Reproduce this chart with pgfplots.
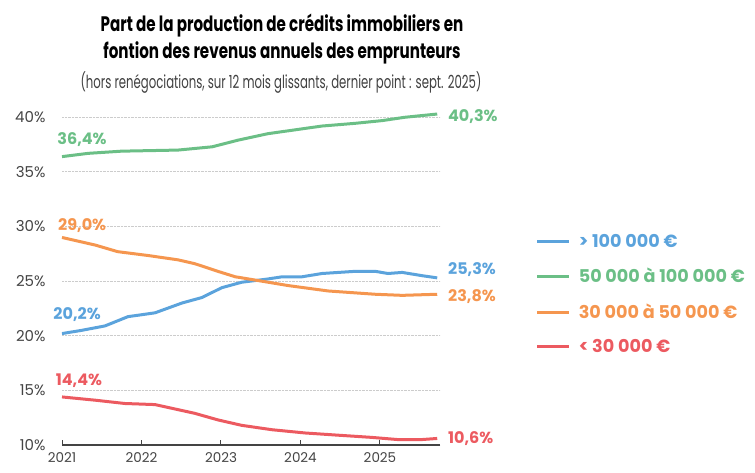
\documentclass[border=0pt]{standalone}
\usepackage{pgfplots}
\pgfplotsset{compat=1.18}
\usepackage{fontspec}
\setmainfont{Poppins}
\newfontfamily\titlefont{Poppins}[FakeStretch=0.72]
\newfontfamily\subfont{Poppins}[FakeStretch=0.65]
\definecolor{cblue}{HTML}{5BA3DC}
\definecolor{cgreen}{HTML}{6BBF86}
\definecolor{corange}{HTML}{F5964F}
\definecolor{cred}{HTML}{EC5A60}
\definecolor{tickgray}{HTML}{444444}

\pgfplotstableread{
x y
2021.00 20.2
2021.25 20.5
2021.54 20.9
2021.83 21.75
2022.17 22.1
2022.51 23.0
2022.76 23.5
2023.01 24.4
2023.26 24.9
2023.59 25.2
2023.77 25.4
2024.02 25.4
2024.27 25.7
2024.69 25.9
2024.94 25.9
2025.10 25.7
2025.28 25.8
2025.53 25.5
2025.72 25.3
}\blue

\pgfplotstableread{
x y
2021.00 36.4
2021.33 36.7
2021.75 36.9
2022.46 37.0
2022.89 37.3
2023.21 37.9
2023.59 38.5
2023.93 38.85
2024.27 39.2
2024.69 39.45
2025.03 39.7
2025.31 40.0
2025.72 40.3
}\green

\pgfplotstableread{
x y
2021.00 29.0
2021.42 28.3
2021.70 27.7
2022.08 27.35
2022.46 26.95
2022.67 26.6
2022.96 25.9
2023.18 25.4
2023.43 25.1
2023.84 24.6
2024.35 24.1
2024.94 23.8
2025.28 23.7
2025.72 23.8
}\orange

\pgfplotstableread{
x y
2021.00 14.4
2021.42 14.1
2021.79 13.8
2022.17 13.7
2022.67 12.9
2022.96 12.3
2023.26 11.8
2023.64 11.4
2024.06 11.1
2024.47 10.9
2024.89 10.7
2025.22 10.5
2025.53 10.5
2025.72 10.6
}\red

\begin{document}
\begin{tikzpicture}[x=1pt,y=1pt]
\path[use as bounding box] (0,0) rectangle (755,472);
\node[anchor=base, font=\titlefont\fontsize{21}{24}\selectfont\bfseries] at (282,440) {Part de la production de crédits immobiliers en};
\node[anchor=base, font=\titlefont\fontsize{21}{24}\selectfont\bfseries] at (282,413) {fontion des revenus annuels des emprunteurs};
\node[anchor=base, font=\subfont\fontsize{18}{20}\selectfont, text=black!75] at (281,383) {(hors renégociations, sur 12 mois glissants, dernier point : sept. 2025)};
\begin{axis}[
  at={(62pt,27pt)}, anchor=south west,
  scale only axis, width=378pt, height=327.7pt,
  xmin=2021, xmax=2025.755, ymin=10, ymax=40,
  clip=false,
  axis x line*=bottom, axis y line*=left,
  x axis line style={draw=tickgray, line width=1.3pt, -},
  y axis line style={draw=none},
  ytick={10,15,20,25,30,35,40},
  yticklabels={10\%,15\%,20\%,25\%,30\%,35\%,40\%},
  xtick={2021,2022,2023,2024,2025},
  xticklabels={2021,2022,2023,2024,2025},
  ytick style={draw=none},
  xtick style={draw=tickgray, line width=1pt},
  tick align=inside, major tick length=5pt,
  ymajorgrids, major grid style={densely dotted, draw=black!20, line width=1pt},
  yticklabel style={font=\fontsize{15}{17}\selectfont, text=tickgray, anchor=east, xshift=-13pt},
  xticklabel style={font=\fontsize{13.5}{15}\selectfont, text=tickgray, yshift=-4pt},
  legend style={draw=none, fill=none, at={(1.245,0.46)}, anchor=west,
    row sep=15.5pt, font=\fontsize{17.6}{19}\selectfont\bfseries, legend cell align=left},
  legend image code/.code={\draw[line width=3pt] (0pt,0pt) -- (32pt,0pt);},
]
\addplot[cblue, line width=3pt] table {\blue};
\addlegendentry{\hspace{6pt}\textcolor{cblue}{> 100 000 €}}
\addplot[cgreen, line width=3pt] table {\green};
\addlegendentry{\hspace{6pt}\textcolor{cgreen}{50 000 à 100 000 €}}
\addplot[corange, line width=3pt] table {\orange};
\addlegendentry{\hspace{6pt}\textcolor{corange}{30 000 à 50 000 €}}
\addplot[cred, line width=3pt] table {\red};
\addlegendentry{\hspace{6pt}\textcolor{cred}{< 30 000 €}}

\begin{scope}[every node/.style={font=\fontsize{16}{18}\selectfont\bfseries, inner sep=0pt}]
\node[anchor=west, text=cgreen] at (axis cs:2020.94,38.0) {36,4\%};
\node[anchor=west, text=corange] at (axis cs:2020.95,30.05) {29,0\%};
\node[anchor=west, text=cblue] at (axis cs:2020.89,21.9) {20,2\%};
\node[anchor=west, text=cred] at (axis cs:2020.92,15.85) {14,4\%};
\node[anchor=west, text=cgreen] at (axis cs:2025.855,40.1) {40,3\%};
\node[anchor=west, text=cblue] at (axis cs:2025.855,26.1) {25,3\%};
\node[anchor=west, text=corange] at (axis cs:2025.855,23.6) {23,8\%};
\node[anchor=west, text=cred] at (axis cs:2025.855,10.63) {10,6\%};
\end{scope}
\end{axis}
\end{tikzpicture}
\end{document}
